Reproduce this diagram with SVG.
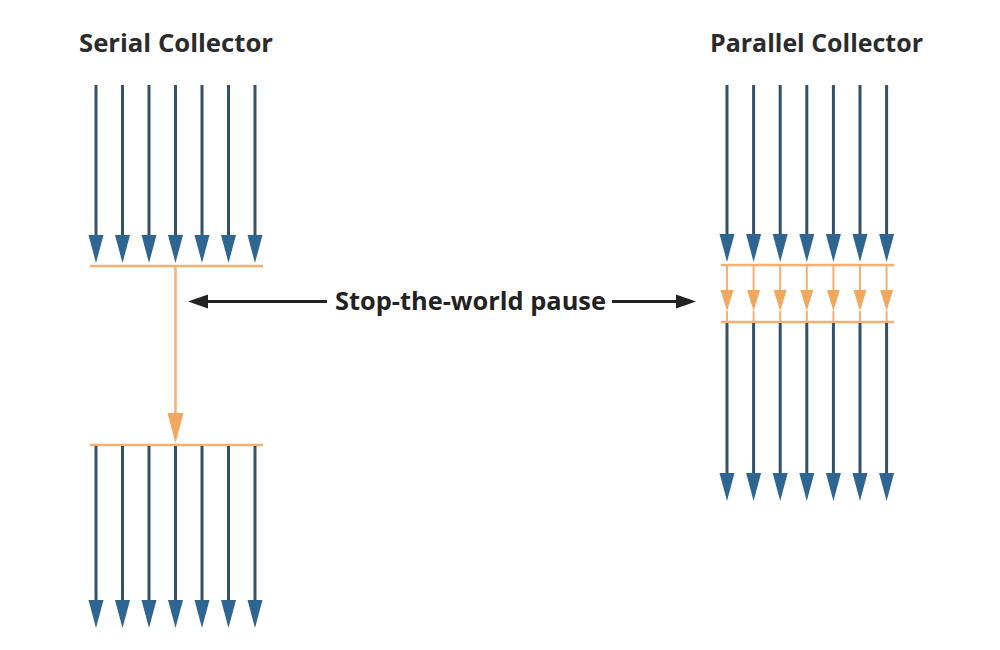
<svg xmlns="http://www.w3.org/2000/svg" width="1000" height="650" viewBox="0 0 1000 650">
<style>
.title{font-family:"Open Sans","Liberation Sans",sans-serif;font-weight:700;font-size:25px;fill:#2b2b2b}
.lbl{font-family:"Open Sans","Liberation Sans",sans-serif;font-weight:700;font-size:25px;fill:#222}
.bl{stroke:#34506a;stroke-width:3;fill:none}
.ol{stroke:#f3b070;stroke-width:2.5;fill:none}
.bh{fill:#2e6591}
.oh{fill:#f2a75e}
.kl{stroke:#222;stroke-width:3;fill:none}
.kh{fill:#222}
</style>
<defs>
<path id="bhead" d="M-7.5,-28 L7.5,-28 L0,0 Z"/>
<path id="ohead" d="M-6.5,-21 L6.5,-21 L0,0 Z"/>
<path id="ohead2" d="M-8,-30 L8,-30 L0,0 Z"/>
</defs>
<rect width="1000" height="650" fill="#ffffff"/>
<text class="title" x="79" y="52" textLength="194" lengthAdjust="spacingAndGlyphs">Serial Collector</text>
<text class="title" x="710" y="52" textLength="213" lengthAdjust="spacingAndGlyphs">Parallel Collector</text>

<g id="serial-top">
<g class="bl">
<line x1="96" y1="85" x2="96" y2="238"/><line x1="122.5" y1="85" x2="122.5" y2="238"/><line x1="149" y1="85" x2="149" y2="238"/><line x1="175.5" y1="85" x2="175.5" y2="238"/><line x1="202" y1="85" x2="202" y2="238"/><line x1="228.5" y1="85" x2="228.5" y2="238"/><line x1="255" y1="85" x2="255" y2="238"/>
</g>
<g class="bh">
<use href="#bhead" x="96" y="263"/><use href="#bhead" x="122.5" y="263"/><use href="#bhead" x="149" y="263"/><use href="#bhead" x="175.5" y="263"/><use href="#bhead" x="202" y="263"/><use href="#bhead" x="228.5" y="263"/><use href="#bhead" x="255" y="263"/>
</g>
<line class="ol" x1="90" y1="266" x2="263" y2="266"/>
</g>

<g id="serial-pause">
<line class="ol" x1="175.5" y1="266" x2="175.5" y2="416"/>
<use class="oh" href="#ohead2" x="175.5" y="443"/>
</g>

<g id="serial-bottom">
<line class="ol" x1="90" y1="445" x2="263" y2="445"/>
<g class="bl">
<line x1="96" y1="446" x2="96" y2="602"/><line x1="122.5" y1="446" x2="122.5" y2="602"/><line x1="149" y1="446" x2="149" y2="602"/><line x1="175.5" y1="446" x2="175.5" y2="602"/><line x1="202" y1="446" x2="202" y2="602"/><line x1="228.5" y1="446" x2="228.5" y2="602"/><line x1="255" y1="446" x2="255" y2="602"/>
</g>
<g class="bh">
<use href="#bhead" x="96" y="628"/><use href="#bhead" x="122.5" y="628"/><use href="#bhead" x="149" y="628"/><use href="#bhead" x="175.5" y="628"/><use href="#bhead" x="202" y="628"/><use href="#bhead" x="228.5" y="628"/><use href="#bhead" x="255" y="628"/>
</g>
</g>

<g id="parallel-top">
<g class="bl">
<line x1="727" y1="85" x2="727" y2="238"/><line x1="753.6" y1="85" x2="753.6" y2="238"/><line x1="780.2" y1="85" x2="780.2" y2="238"/><line x1="806.8" y1="85" x2="806.8" y2="238"/><line x1="833.4" y1="85" x2="833.4" y2="238"/><line x1="860" y1="85" x2="860" y2="238"/><line x1="886.6" y1="85" x2="886.6" y2="238"/>
</g>
<g class="bh">
<use href="#bhead" x="727" y="262"/><use href="#bhead" x="753.6" y="262"/><use href="#bhead" x="780.2" y="262"/><use href="#bhead" x="806.8" y="262"/><use href="#bhead" x="833.4" y="262"/><use href="#bhead" x="860" y="262"/><use href="#bhead" x="886.6" y="262"/>
</g>
</g>

<g id="parallel-pause">
<line class="ol" x1="721" y1="265" x2="894" y2="265"/>
<g class="ol" style="stroke-width:2">
<line x1="727" y1="265" x2="727" y2="292"/><line x1="753.6" y1="265" x2="753.6" y2="292"/><line x1="780.2" y1="265" x2="780.2" y2="292"/><line x1="806.8" y1="265" x2="806.8" y2="292"/><line x1="833.4" y1="265" x2="833.4" y2="292"/><line x1="860" y1="265" x2="860" y2="292"/><line x1="886.6" y1="265" x2="886.6" y2="292"/>
<line x1="727" y1="311" x2="727" y2="322"/><line x1="753.6" y1="311" x2="753.6" y2="322"/><line x1="780.2" y1="311" x2="780.2" y2="322"/><line x1="806.8" y1="311" x2="806.8" y2="322"/><line x1="833.4" y1="311" x2="833.4" y2="322"/><line x1="860" y1="311" x2="860" y2="322"/><line x1="886.6" y1="311" x2="886.6" y2="322"/>
</g>
<g class="oh">
<use href="#ohead" x="727" y="311"/><use href="#ohead" x="753.6" y="311"/><use href="#ohead" x="780.2" y="311"/><use href="#ohead" x="806.8" y="311"/><use href="#ohead" x="833.4" y="311"/><use href="#ohead" x="860" y="311"/><use href="#ohead" x="886.6" y="311"/>
</g>
<line class="ol" x1="721" y1="322" x2="894" y2="322"/>
</g>

<g id="parallel-bottom">
<g class="bl">
<line x1="727" y1="323" x2="727" y2="474"/><line x1="753.6" y1="323" x2="753.6" y2="474"/><line x1="780.2" y1="323" x2="780.2" y2="474"/><line x1="806.8" y1="323" x2="806.8" y2="474"/><line x1="833.4" y1="323" x2="833.4" y2="474"/><line x1="860" y1="323" x2="860" y2="474"/><line x1="886.6" y1="323" x2="886.6" y2="474"/>
</g>
<g class="bh">
<use href="#bhead" x="727" y="501"/><use href="#bhead" x="753.6" y="501"/><use href="#bhead" x="780.2" y="501"/><use href="#bhead" x="806.8" y="501"/><use href="#bhead" x="833.4" y="501"/><use href="#bhead" x="860" y="501"/><use href="#bhead" x="886.6" y="501"/>
</g>
</g>

<g id="connectors">
<line class="kl" x1="205" y1="301.5" x2="327" y2="301.5"/>
<path class="kh" d="M188,301.5 L208,294.5 L208,308.5 Z"/>
<line class="kl" x1="612" y1="301.5" x2="678" y2="301.5"/>
<path class="kh" d="M696,301.5 L676,294.5 L676,308.5 Z"/>
</g>
<text class="lbl" x="335" y="310" textLength="271" lengthAdjust="spacingAndGlyphs">Stop-the-world pause</text>
</svg>
